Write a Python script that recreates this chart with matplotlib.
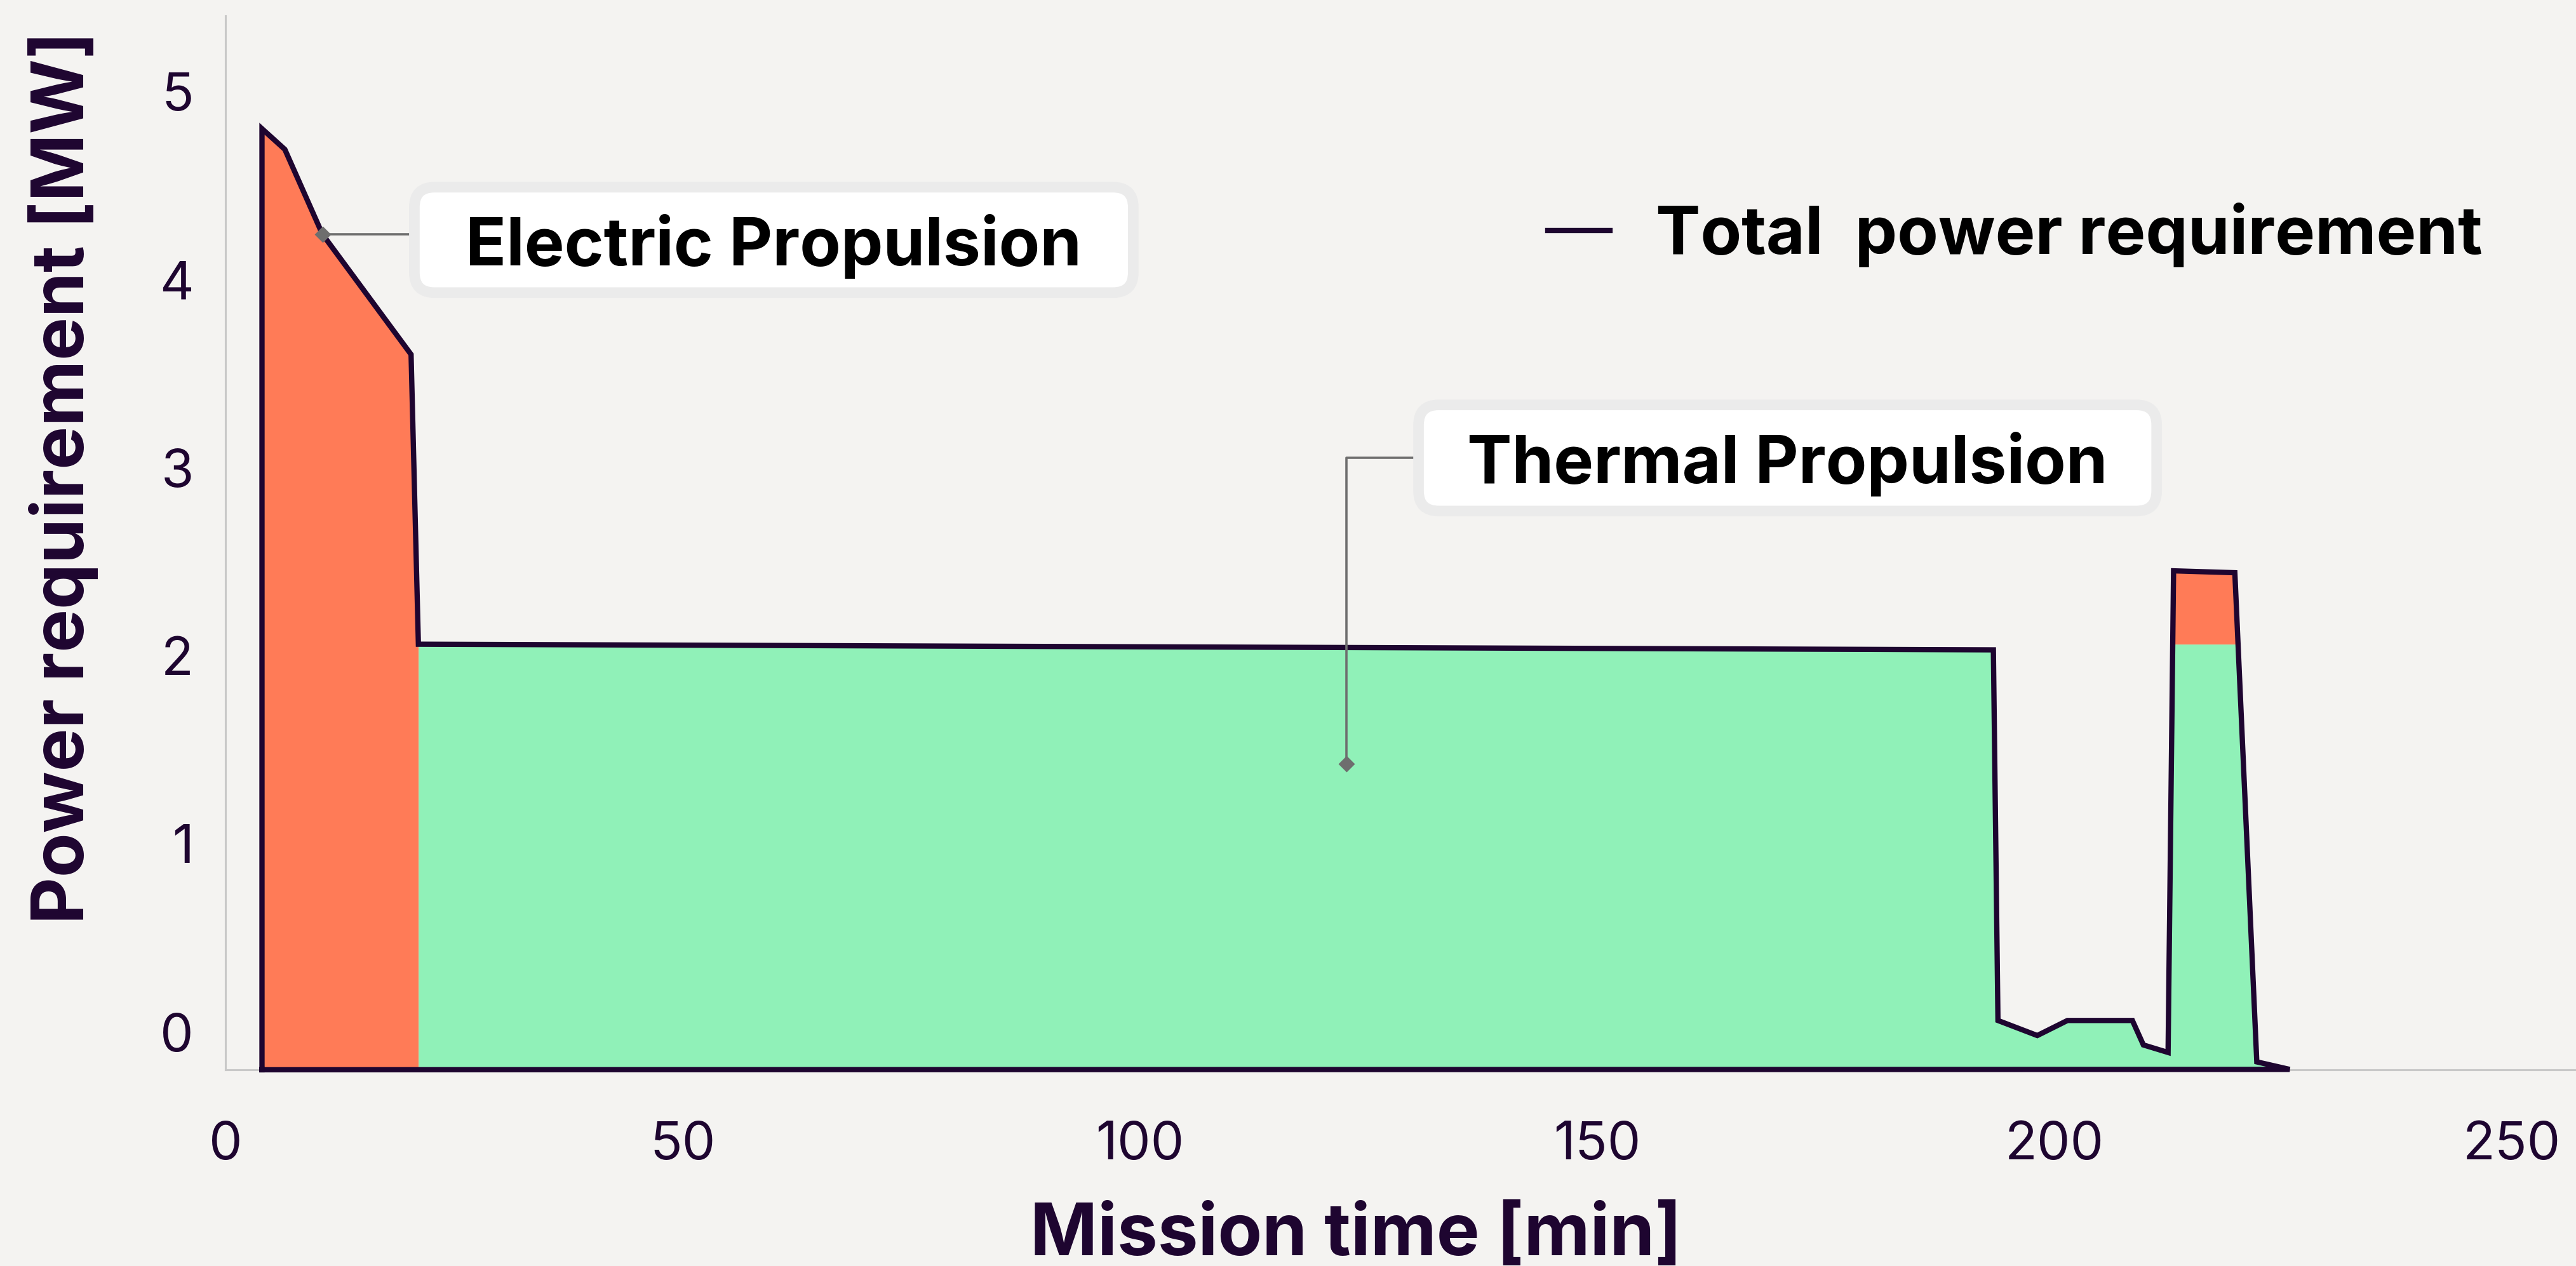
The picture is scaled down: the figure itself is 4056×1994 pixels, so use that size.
import numpy as np
import matplotlib.pyplot as plt
from matplotlib.patches import FancyBboxPatch
from matplotlib.lines import Line2D

# ---------------------------------------------------------------------------
# Data
# ---------------------------------------------------------------------------

# Total power requirement profile [min], [MW]
total_time  = [4.0, 6.5, 10.6, 20.3, 21.1, 193.3, 193.8, 198.1, 201.4,
               208.5, 209.7, 212.4, 213.0, 219.7, 222.1, 225.7]
total_power = [4.80, 4.69, 4.24, 3.60, 2.06, 2.03, 0.06, -0.02, 0.06,
               0.06, -0.07, -0.11, 2.45, 2.44, -0.16, -0.20]

# Electric propulsion share: launch phase and the late boost
elec_time   = [4.0, 6.5, 10.6, 20.3, 21.1]
elec_power  = [4.80, 4.69, 4.24, 3.60, 2.06]
boost_time  = [213.0, 219.7, 220.05]
boost_power = [2.45, 2.44, 2.06]

# Thermal propulsion share
therm_time  = [21.1, 193.3, 193.8, 198.1, 201.4, 208.5, 209.7, 212.4,
               213.0, 219.7, 220.05, 222.1, 225.7]
therm_power = [2.06, 2.03, 0.06, -0.02, 0.06, 0.06, -0.07, -0.11,
               2.06, 2.06, 2.06, -0.16, -0.20]

XTICKS = [0, 50, 100, 150, 200, 250]
YTICKS = [0, 1, 2, 3, 4, 5]

# ---------------------------------------------------------------------------
# Style
# ---------------------------------------------------------------------------

BG      = "#F4F3F1"
ORANGE  = "#FF7B57"
GREEN   = "#90F1B8"
DARK    = "#1E0530"
SPINE   = "#C8C8C8"
CONNECT = "#6E6E6E"
XMIN, XMAX = 0, 257
YMIN, YMAX = -0.202, 5.40
LABEL_FS = 38

plt.rcParams["font.family"] = ["Inter", "DejaVu Sans"]

fig = plt.figure(figsize=(20.28, 9.97), dpi=200, facecolor=BG)
ax = fig.add_axes([0.0875, 0.155, 0.9125, 0.8325], facecolor=BG)

# stacked areas
ax.fill_between(elec_time, YMIN, elec_power, color=ORANGE, lw=0, zorder=2)
ax.fill_between(therm_time, YMIN, therm_power, color=GREEN, lw=0, zorder=2)
ax.fill_between(boost_time, boost_power[-1], boost_power, color=ORANGE,
                lw=0, zorder=2)

# total outline (closed along the bottom of the plot)
ox = [total_time[0]] + total_time + [total_time[0]]
oy = [YMIN] + total_power + [YMIN]
ax.plot(ox, oy, color=DARK, lw=3.0, solid_joinstyle="miter",
        clip_on=False, zorder=4)

ax.set_xlim(XMIN, XMAX)
ax.set_ylim(YMIN, YMAX)
ax.set_xticks(XTICKS)
ax.set_yticks(YTICKS)
ax.tick_params(length=0, labelsize=30, labelcolor=DARK)
ax.tick_params(axis="x", pad=29)
ax.tick_params(axis="y", pad=18)

for side in ("top", "right"):
    ax.spines[side].set_visible(False)
for side in ("left", "bottom"):
    ax.spines[side].set_color(SPINE)
    ax.spines[side].set_linewidth(1.1)

ax.set_xlabel("Mission time [min]", fontsize=41, fontweight="bold", color=DARK)
ax.set_ylabel("Power requirement [MW]", fontsize=41, fontweight="bold", color=DARK)
ax.xaxis.set_label_coords(0.481, -0.126)
ax.yaxis.set_label_coords(-0.054, 0.562)

# legend
handle = Line2D([], [], color=DARK, lw=3.0)
ax.legend([handle], ["Total  power requirement"], loc="center left",
          bbox_to_anchor=(0.5626, 0.792), frameon=False,
          handlelength=0.93, handletextpad=0.68, borderpad=0, borderaxespad=0,
          prop={"weight": "bold", "size": LABEL_FS})


def callout(label, anchor, center, size, elbow=False):
    """Grey connector from an anchor point to a white rounded label box."""
    ax_, ay_ = anchor
    if elbow:
        # straight up from the anchor, then across into the box
        cx, cy = [ax_, ax_, center[0]], [ay_, center[1], center[1]]
    else:
        cx, cy = [ax_, center[0]], [ay_, ay_]
    ax.plot(cx, cy, color=CONNECT, lw=1.3, zorder=5)
    ax.plot(ax_, ay_, marker="D", ms=5.5, color=CONNECT, zorder=5)
    w, h = size
    box = FancyBboxPatch((center[0] - w / 2, center[1] - h / 2), w, h,
                         boxstyle="round,pad=0,rounding_size=2.2",
                         mutation_aspect=1 / 20.6,
                         facecolor="white", edgecolor="#EBEBEB", lw=6.0,
                         zorder=6)
    ax.add_patch(box)
    ax.text(center[0], center[1] - 0.134, label, ha="center", va="baseline",
            fontsize=LABEL_FS, fontweight="bold", color="black", zorder=7)


callout("Electric Propulsion", (elec_time[2], elec_power[2]),
        (59.96, 4.209), (78.6, 0.56))
callout("Thermal Propulsion", (122.6, 1.426), (170.8, 3.05), (80.7, 0.564),
        elbow=True)

fig.savefig("out.png", dpi=200, facecolor=BG)
